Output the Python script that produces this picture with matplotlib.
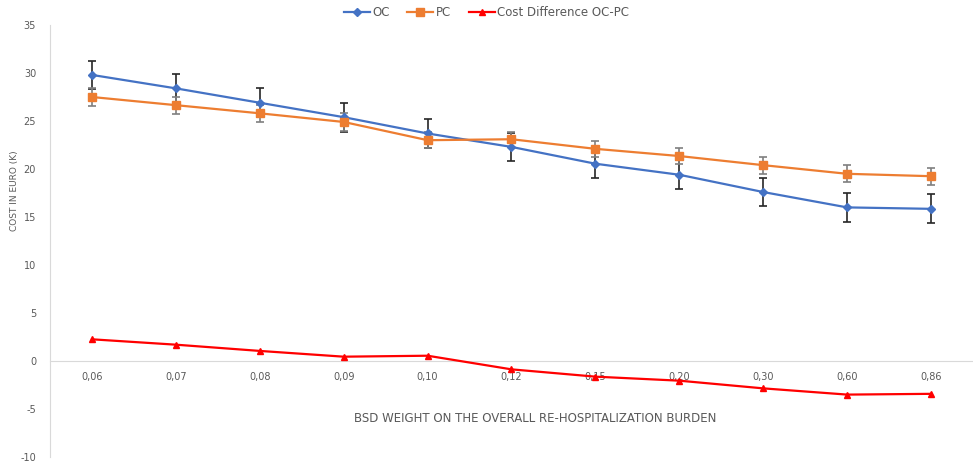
import matplotlib
matplotlib.use("Agg")
import matplotlib.pyplot as plt
import numpy as np

plt.rcParams["axes.unicode_minus"] = False

# BSD weight categories
weights = ["0,06", "0,07", "0,08", "0,09", "0,10", "0,12", "0,15", "0,20", "0,30", "0,60", "0,86"]

oc = [29.8, 28.4, 26.9, 25.4, 23.7, 22.3, 20.55, 19.4, 17.6, 16.0, 15.85]
oc_err = [1.5, 1.5, 1.5, 1.5, 1.5, 1.5, 1.5, 1.5, 1.5, 1.5, 1.5]
pc = [27.5, 26.65, 25.8, 24.9, 23.0, 23.1, 22.1, 21.35, 20.4, 19.5, 19.25]
pc_err = [0.9, 0.9, 0.9, 0.9, 0.85, 0.8, 0.85, 0.85, 0.87, 0.87, 0.87]
diff = [2.26, 1.7, 1.05, 0.45, 0.55, -0.87, -1.63, -2.05, -2.85, -3.5, -3.42]

blue = "#4472C4"
orange = "#ED7D31"
red = "#FF0000"
grey_txt = "#595959"

fig = plt.figure(figsize=(9.73, 4.63), dpi=100)
ax = fig.add_axes([50 / 973, 6 / 463, 923 / 973, 432 / 463])

x = np.arange(len(weights))

ax.errorbar(x, oc, yerr=oc_err, fmt="none", ecolor="#262626", elinewidth=1.2,
            capsize=3, capthick=1.2, zorder=2)
ax.errorbar(x, pc, yerr=pc_err, fmt="none", ecolor="#7F7F7F", elinewidth=1.2,
            capsize=3, capthick=1.2, zorder=2)

ax.plot(x, oc, color=blue, lw=1.6, marker="D", ms=4.5, label="OC", zorder=3)
ax.plot(x, pc, color=orange, lw=1.6, marker="s", ms=6, label="PC", zorder=3)
ax.plot(x, diff, color=red, lw=1.6, marker="^", ms=5, label="Cost Difference OC-PC", zorder=3)

ax.set_xlim(-0.5, len(weights) - 0.5)
ax.set_ylim(-10, 35)
ax.set_yticks(np.arange(-10, 36, 5))
ax.set_xticks(x)
ax.set_xticklabels(weights)

for s in ["top", "right"]:
    ax.spines[s].set_visible(False)
ax.spines["left"].set_color("#D9D9D9")
ax.spines["bottom"].set_color("#D9D9D9")
ax.spines["bottom"].set_position(("data", 0))

ax.tick_params(axis="both", length=0, colors=grey_txt, labelsize=7)
ax.tick_params(axis="x", pad=8)
ax.tick_params(axis="y", pad=10)

fig.text(15 / 973, 1 - 191 / 463, "COST IN EURO (K)", rotation=90, ha="center", va="center",
         fontsize=6.5, color=grey_txt)
fig.text(535 / 973, 1 - 418 / 463, "BSD WEIGHT ON THE OVERALL RE-HOSPITALIZATION BURDEN",
         ha="center", va="center", fontsize=8.5, color=grey_txt)

fig.legend(loc="upper center", bbox_to_anchor=(0.5, 1.01), ncol=3, frameon=False,
           fontsize=8.5, handlelength=2.2, handletextpad=0.2, columnspacing=1.5,
           labelcolor=grey_txt)

fig.savefig("out.png", dpi=100)
